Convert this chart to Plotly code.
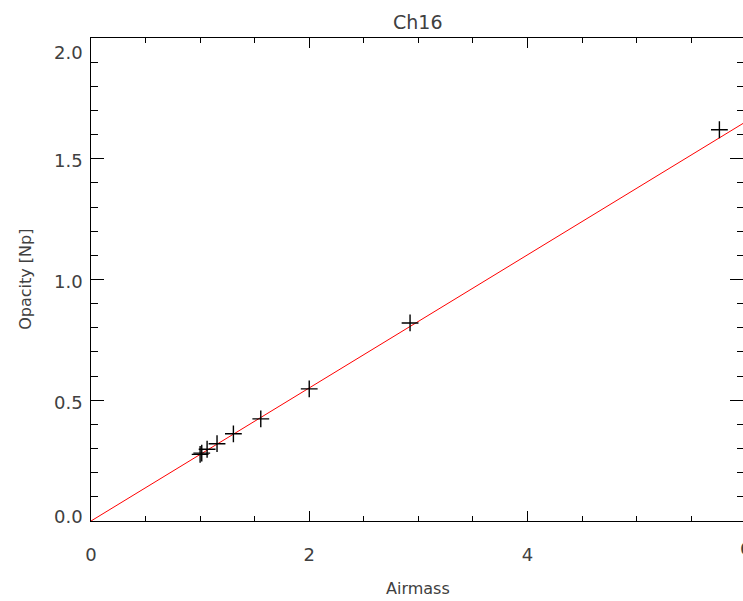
import plotly.graph_objects as go

# Data
airmass = [1.0, 1.015, 1.064, 1.155, 1.305, 1.556, 2.0, 2.924, 5.759]
opacity = [0.276, 0.281, 0.297, 0.320, 0.361, 0.423, 0.547, 0.820, 1.620]
fit_x = [0.0, 6.0]
fit_y = [0.0, 1.653]

x_tickvals = [0, 2, 4, 6]
x_ticktext = ["0", "2", "4", "6"]
y_tickvals = [0.0, 0.5, 1.0, 1.5, 2.0]
y_ticktext = ["0.0", "0.5", "1.0", "1.5", "2.0"]
# IDL nudges the end labels inward (px, positive = down)
y_label_shift = [-5, 2, 2, 2, 14]

FONT = "DejaVu Sans, sans-serif"
TXT = "#404040"
WT = 400
W, H = 743, 601
ML, MT, MB = 90.5, 37.5, 80
PW = W - ML
PH = H - MT - MB
x_px_per_unit = 109.2
x_max = PW / x_px_per_unit

fig = go.Figure()
fig.add_trace(go.Scatter(x=fit_x, y=fit_y, mode="lines",
                         line=dict(color="red", width=1), showlegend=False,
                         hoverinfo="skip"))
fig.add_trace(go.Scatter(x=airmass, y=opacity, mode="markers",
                         marker=dict(symbol="cross-thin", size=12,
                                     line=dict(color="black", width=1.4)),
                         showlegend=False))

fig.update_layout(
    width=W, height=H,
    margin=dict(l=ML, r=0, t=MT, b=MB, pad=0, autoexpand=False),
    plot_bgcolor="white", paper_bgcolor="white",
    font=dict(family=FONT, color=TXT, size=17, weight=WT),
    xaxis=dict(range=[0, x_max], showgrid=False, zeroline=False,
               automargin=False,
               showline=True, linecolor="black", linewidth=1, mirror="ticks",
               ticks="inside", ticklen=10, tickwidth=1, tickcolor="black",
               tickvals=x_tickvals, ticktext=x_ticktext,
               ticklabelstandoff=17,
               tickfont=dict(size=18, family=FONT, color=TXT, weight=WT),
               minor=dict(dtick=0.5, ticks="inside", ticklen=5, tickwidth=1,
                          tickcolor="black", showgrid=False)),
    yaxis=dict(range=[0, 2.0], showgrid=False, zeroline=False,
               automargin=False, showticklabels=False,
               showline=True, linecolor="black", linewidth=1, mirror="ticks",
               ticks="inside", ticklen=13, tickwidth=1, tickcolor="black",
               tickvals=y_tickvals,
               minor=dict(dtick=0.1, ticks="inside", ticklen=6.5, tickwidth=1,
                          tickcolor="black", showgrid=False)),
)

# y tick labels (drawn as text so the IDL-style end offsets can be kept)
for v, t, s in zip(y_tickvals, y_ticktext, y_label_shift):
    fig.add_annotation(x=0, y=v, xref="paper", yref="y", text=t,
                       showarrow=False, xanchor="right", yanchor="middle",
                       xshift=-6, yshift=-s,
                       font=dict(size=18, family=FONT, color=TXT, weight=WT))

plot_cx = (6 / 2) / x_max  # centre of the full 0..6 axis in paper units

# title
fig.add_annotation(x=plot_cx, y=1 + (MT - 21) / PH, xref="paper", yref="paper",
                   text="Ch16", showarrow=False, xanchor="center",
                   yanchor="middle",
                   font=dict(size=19, family=FONT, color=TXT, weight=WT))
# axis titles
fig.add_annotation(x=plot_cx, y=-(589 - (H - MB)) / PH, xref="paper", yref="paper",
                   text="Airmass", showarrow=False, xanchor="center",
                   yanchor="middle",
                   font=dict(size=16, family=FONT, color=TXT, weight=WT))
fig.add_annotation(x=-(ML - 25) / PW, y=(H - MB - 279) / PH, xref="paper",
                   yref="paper", text="Opacity [Np]", showarrow=False,
                   textangle=-90, xanchor="center", yanchor="middle",
                   font=dict(size=16, family=FONT, color=TXT, weight=WT))
# the "6" label sits at the clipped right edge
fig.add_annotation(x=6 / x_max, y=-(549 - (H - MB)) / PH, xref="paper",
                   yref="paper", text=x_ticktext[-1], showarrow=False,
                   xanchor="center", yanchor="middle",
                   font=dict(size=18, family=FONT, color=TXT, weight=WT))

fig.write_html("out.html", config={"displayModeBar": False},
               post_script="document.body.style.margin='0';"
                           "document.body.style.overflow='hidden';")
